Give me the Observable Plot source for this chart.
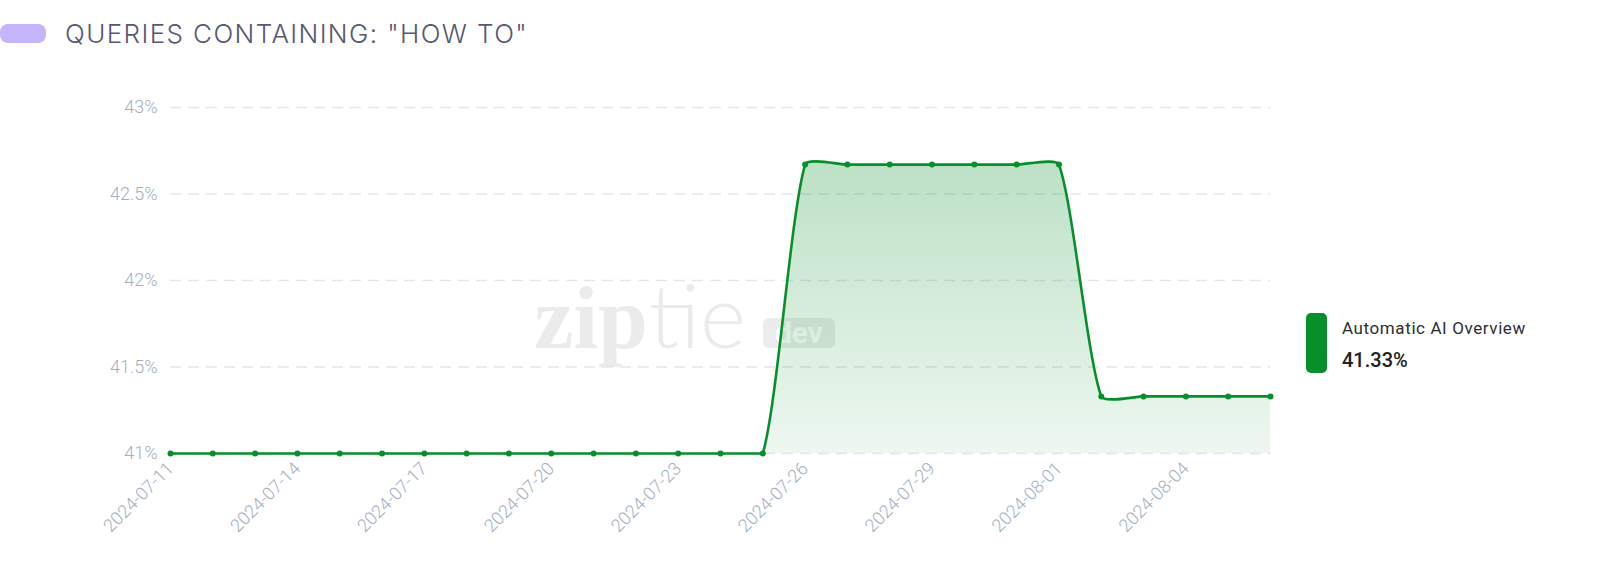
<!DOCTYPE html>
<html><head><meta charset="utf-8">
<script src="https://cdn.jsdelivr.net/npm/d3@7"></script>
<script src="https://cdn.jsdelivr.net/npm/@observablehq/plot@0.6"></script>
<style>
body{margin:0;background:#fff;width:1600px;height:576px;overflow:hidden;font-family:Roboto,sans-serif;position:relative}
#pill{position:absolute;left:0;top:24px;width:46px;height:19px;border-radius:8px;background:#c4b5fd}
#title{position:absolute;left:65px;top:21px;font-family:Inter,Roboto,sans-serif;font-size:26px;letter-spacing:1.4px;line-height:1;font-weight:300;color:#575873;white-space:nowrap}
#chart{position:absolute;left:0;top:60px}
#legend{position:absolute;left:1306px;top:313px}
#swatch{position:absolute;left:0;top:0;width:21px;height:60px;border-radius:5px;background:#078f2b}
#lname{position:absolute;left:36px;top:7px;font-size:17px;letter-spacing:0.6px;line-height:1;color:#2e2e33;white-space:nowrap}
#lval{position:absolute;left:36px;top:37px;font-size:20px;line-height:1;font-weight:500;color:#222;white-space:nowrap}
#wm{position:absolute;left:534px;top:270px;display:flex;align-items:baseline;color:#ebebeb;white-space:nowrap;pointer-events:none}
#wm .zip{font-family:"Liberation Serif",serif;font-weight:bold;font-size:89px;line-height:1}
#wm .tie{font-family:Lato,sans-serif;font-weight:300;font-size:88px;line-height:1;margin-left:1px}
#wm .dev{font-family:Roboto,sans-serif;font-weight:bold;font-size:30px;line-height:30px;background:#ececec;color:#fff;border-radius:6px;padding:0 12px;margin-left:17px;position:relative;top:-5px}
</style></head><body>
<div id="pill"></div>
<div id="title">QUERIES CONTAINING: "HOW TO"</div>
<div id="wm"><span class="zip">zip</span><span class="tie">tie</span><span class="dev">dev</span></div>
<div id="chart"></div>
<div id="legend"><div id="swatch"></div><div id="lname">Automatic AI Overview</div><div id="lval">41.33%</div></div>
<script>
const dates = ["2024-07-11","2024-07-12","2024-07-13","2024-07-14","2024-07-15","2024-07-16","2024-07-17","2024-07-18","2024-07-19","2024-07-20","2024-07-21","2024-07-22","2024-07-23","2024-07-24","2024-07-25","2024-07-26","2024-07-27","2024-07-28","2024-07-29","2024-07-30","2024-07-31","2024-08-01","2024-08-02","2024-08-03","2024-08-04","2024-08-05","2024-08-06"];
const values = [41,41,41,41,41,41,41,41,41,41,41,41,41,41,41,42.67,42.67,42.67,42.67,42.67,42.67,42.67,41.33,41.33,41.33,41.33,41.33];
const xTickLabels = ["2024-07-11","2024-07-14","2024-07-17","2024-07-20","2024-07-23","2024-07-26","2024-07-29","2024-08-01","2024-08-04"];
const yTicks = [41,41.5,42,42.5,43];
const seriesName = "Automatic AI Overview";

const W = 1600, H = 516, MT = 47, MB = 123, ML = 170, MR = 330;
const parse = s => new Date(s + "T00:00:00Z");
const data = dates.map((d, i) => ({date: parse(d), v: values[i]}));
const green = "#078f2b";

// Chart.js-style cubic spline (tension, control points capped to the plot area)
function splineCurve(t, left, right, top, bottom) {
  const capX = v => Math.max(left, Math.min(right, v));
  const capY = v => Math.max(top, Math.min(bottom, v));
  return function(context) {
    return {
      _line: NaN,
      areaStart() { this._line = 0; },
      areaEnd() { this._line = NaN; },
      lineStart() { this._x = []; this._y = []; },
      point(x, y) { this._x.push(+x); this._y.push(+y); },
      lineEnd() {
        const X = this._x, Y = this._y, n = X.length, c = context;
        if (n) {
          this._line ? c.lineTo(X[0], Y[0]) : c.moveTo(X[0], Y[0]);
          if (n === 2) c.lineTo(X[1], Y[1]);
          else if (n > 2) {
            const cp = [];
            for (let i = 0; i < n; i++) {
              const pi = i > 0 ? i - 1 : i, ni = i < n - 1 ? i + 1 : i;
              const d01 = Math.hypot(X[i] - X[pi], Y[i] - Y[pi]);
              const d12 = Math.hypot(X[ni] - X[i], Y[ni] - Y[i]);
              let s01 = d01 / (d01 + d12), s12 = d12 / (d01 + d12);
              if (isNaN(s01)) s01 = 0; if (isNaN(s12)) s12 = 0;
              const fa = t * s01, fb = t * s12, dx = X[ni] - X[pi], dy = Y[ni] - Y[pi];
              cp.push({px: capX(X[i] - fa * dx), py: capY(Y[i] - fa * dy), nx: capX(X[i] + fb * dx), ny: capY(Y[i] + fb * dy)});
            }
            for (let i = 1; i < n; i++) c.bezierCurveTo(cp[i-1].nx, cp[i-1].ny, cp[i].px, cp[i].py, X[i], Y[i]);
          }
        }
        if (this._line || (this._line !== 0 && n === 1)) c.closePath();
        this._line = 1 - this._line;
      }
    };
  };
}
const curve = splineCurve(0.2, ML, W - MR, MT, H - MB);

const chart = Plot.plot({
  width: W, height: H,
  marginTop: MT, marginBottom: MB, marginLeft: ML, marginRight: MR,
  style: {fontFamily: "Roboto, sans-serif", fontSize: "18px", fontWeight: 300, color: "#a5b0bf", background: "transparent", overflow: "visible"},
  x: {type: "utc", domain: [parse(dates[0]), parse(dates[dates.length - 1])], ticks: xTickLabels.map(parse),
      tickFormat: d3.utcFormat("%Y-%m-%d"), tickRotate: -45, tickSize: 0, tickPadding: 12, label: null},
  y: {domain: [41, 43], ticks: yTicks, tickFormat: d => d + "%", tickSize: 0, tickPadding: 13, label: null},
  marks: [
    Plot.gridY(yTicks, {stroke: "#e4e6ea", strokeOpacity: 1, strokeWidth: 1.5, strokeDasharray: "11,7"}),
    Plot.areaY(data, {x: "date", y1: 41, y2: "v", curve, fill: "url(#areaGrad)"}),
    Plot.lineY(data, {x: "date", y: "v", curve, stroke: green, strokeWidth: 2.6}),
    Plot.dot(data, {x: "date", y: "v", r: 3, fill: green})
  ]
});
d3.select(chart).insert("defs", ":first-child").html(
  `<linearGradient id="areaGrad" x1="0" y1="0" x2="0" y2="1">
     <stop offset="0" stop-color="${green}" stop-opacity="0.27"/>
     <stop offset="1" stop-color="${green}" stop-opacity="0.07"/>
   </linearGradient>`);
document.getElementById("chart").appendChild(chart);
document.getElementById("lname").textContent = seriesName;
document.getElementById("lval").textContent = values[values.length - 1].toFixed(2) + "%";
</script>
</body></html>
